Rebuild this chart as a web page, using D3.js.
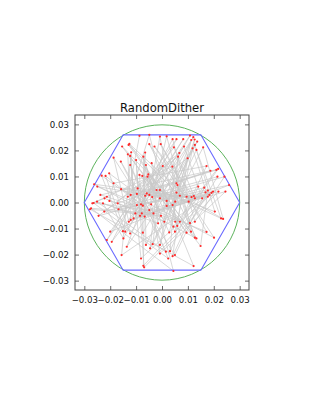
<!DOCTYPE html>
<html>
<head>
<meta charset="utf-8">
<script src="https://cdn.jsdelivr.net/npm/d3@7"></script>
<style>
  body { margin: 0; background: #fff; }
  text { font-family: "DejaVu Sans", sans-serif; }
</style>
</head>
<body>
<div id="chart"></div>
<script>
var width = 318,
    height = 411;

const title = "RandomDither";
const radius = 0.03;
const ticks = [-0.03, -0.02, -0.01, 0.00, 0.01, 0.02, 0.03];

// dither sample points, in drawing order
const xs = [
  -0.0087, -0.0132, 0.0210, 0.0044, -0.0049, -0.0121, 0.0217, 0.0059,
  -0.0008, -0.0049, 0.0214, 0.0108, 0.0018, -0.0038, 0.0241, 0.0127,
  0.0041, -0.0097, 0.0259, -0.0200, 0.0056, -0.0081, -0.0233, -0.0151,
  0.0082, -0.0074, -0.0218, -0.0142, 0.0108, -0.0042, -0.0204, -0.0123,
  0.0121, -0.0008, -0.0087, -0.0074, 0.0136, 0.0018, -0.0076, 0.0028,
  0.0113, 0.0018, -0.0056, 0.0050, 0.0126, 0.0041, -0.0053, 0.0095,
  -0.0154, 0.0051, 0.0056, 0.0112, -0.0129, 0.0069, 0.0060, 0.0127,
  -0.0126, 0.0095, -0.0262, 0.0133, -0.0049, 0.0103, -0.0250, 0.0172,
  -0.0005, 0.0114, -0.0158, 0.0201, -0.0029, 0.0123, -0.0094, -0.0213,
  0.0046, 0.0127, -0.0097, -0.0194, 0.0085, 0.0155, -0.0059, -0.0136,
  0.0118, 0.0177, -0.0065, -0.0062, 0.0127, 0.0204, -0.0021, -0.0046,
  0.0133, 0.0228, -0.0008, -0.0036, 0.0159, 0.0236, 0.0056, -0.0008,
  0.0067, -0.0223, 0.0140, 0.0031, 0.0062, -0.0245, 0.0163, 0.0041,
  0.0099, -0.0168, 0.0168, 0.0050, -0.0187, -0.0128, 0.0177, 0.0149,
  -0.0132, -0.0121, 0.0183, -0.0156, -0.0119, -0.0110, 0.0191, -0.0081,
  -0.0123, -0.0103, 0.0197, -0.0072, -0.0065, -0.0078, 0.0218, -0.0069,
  -0.0100, -0.0085, 0.0245, -0.0008, -0.0072, -0.0067, -0.0251, 0.0015,
  -0.0159, -0.0049, -0.0264, 0.0024, -0.0123, -0.0033, -0.0274, 0.0044,
  -0.0062, -0.0004, -0.0278, 0.0122, -0.0040, -0.0015, -0.0228, -0.0149,
  0.0003, 0.0009, -0.0222, -0.0269, 0.0040, 0.0051, -0.0203, -0.0187,
  0.0172, 0.0069, -0.0213, -0.0238, 0.0187, -0.0171
];
const ys = [
  0.0256, 0.0022, 0.0125, -0.0093, 0.0260, 0.0029, 0.0129, -0.0090,
  0.0253, 0.0029, 0.0099, -0.0079, 0.0254, 0.0021, 0.0099, -0.0074,
  0.0243, -0.0010, 0.0067, -0.0112, 0.0243, -0.0007, 0.0103, -0.0110,
  0.0243, -0.0012, 0.0102, -0.0112, 0.0257, -0.0007, 0.0112, -0.0119,
  0.0251, 0.0016, 0.0106, -0.0116, 0.0234, 0.0006, 0.0102, -0.0115,
  0.0240, -0.0013, 0.0099, -0.0112, 0.0242, -0.0010, 0.0108, -0.0116,
  0.0215, 0.0003, 0.0074, -0.0112, 0.0221, 0.0026, 0.0067, -0.0135,
  0.0225, 0.0022, 0.0070, -0.0138, 0.0224, 0.0003, 0.0061, -0.0113,
  0.0224, 0.0021, 0.0051, -0.0135, 0.0215, 0.0025, 0.0054, -0.0144,
  0.0212, 0.0016, 0.0033, -0.0151, 0.0215, 0.0016, 0.0035, -0.0170,
  0.0208, 0.0022, 0.0026, -0.0163, 0.0221, -0.0035, 0.0048, -0.0176,
  0.0202, -0.0061, 0.0048, -0.0160, 0.0212, -0.0063, 0.0038, -0.0163,
  0.0190, -0.0035, 0.0061, -0.0187, 0.0176, -0.0051, 0.0057, -0.0206,
  0.0170, -0.0026, 0.0039, -0.0202, 0.0172, -0.0074, 0.0046, -0.0167,
  0.0185, -0.0067, 0.0029, -0.0202, 0.0193, -0.0061, 0.0037, -0.0215,
  0.0179, -0.0042, 0.0042, -0.0243, 0.0192, -0.0042, 0.0042, -0.0249,
  0.0163, -0.0051, 0.0042, -0.0196, 0.0176, -0.0054, 0.0003, -0.0189,
  0.0157, -0.0029, -0.0002, -0.0215, 0.0144, -0.0042, -0.0022, -0.0263,
  0.0144, -0.0051, -0.0026, -0.0244, 0.0151, -0.0080, -0.0003, -0.0138,
  0.0140, -0.0074, 0.0016, -0.0003, 0.0138, -0.0074, 0.0006, 0.0074,
  0.0140, -0.0074, 0.0022, 0.0029, 0.0122, -0.0003
];

const points = xs.map((x, i) => ({x: x, y: ys[i]}));

// plot box
var boxLeft = 75, boxRight = 249, boxTop = 115, boxBottom = 290;

var xScale = d3.scaleLinear().domain([-0.0336, 0.0336]).range([boxLeft, boxRight]),
    yScale = d3.scaleLinear().domain([-0.0336, 0.0336]).range([boxBottom, boxTop]);

var svg = d3.select("#chart")
    .append("svg")
    .attr("width", width)
    .attr("height", height);

var fmt = d => d3.format(".2f")(d).replace("-", "\u2212");

// path through the points in order
var line = d3.line()
    .x(d => xScale(d.x))
    .y(d => yScale(d.y));

svg.append("path")
    .attr("d", line(points))
    .attr("fill", "none")
    .attr("stroke", "#c8c8c8")
    .attr("stroke-opacity", 0.9)
    .attr("stroke-width", 0.8);

// bounding circle
svg.append("circle")
    .attr("cx", xScale(0))
    .attr("cy", yScale(0))
    .attr("r", xScale(radius) - xScale(0))
    .attr("fill", "none")
    .attr("stroke", "#5cb35c")
    .attr("stroke-width", 1);

// hexagon
var hex = d3.range(7).map(k => ({
    x: radius * Math.cos(k * Math.PI / 3),
    y: radius * Math.sin(k * Math.PI / 3)
}));

svg.append("path")
    .attr("d", line(hex))
    .attr("fill", "none")
    .attr("stroke", "#6a6aff")
    .attr("stroke-width", 1.1);

svg.selectAll(".pt")
    .data(points)
    .enter().append("circle")
    .attr("class", "pt")
    .attr("cx", d => xScale(d.x))
    .attr("cy", d => yScale(d.y))
    .attr("r", 1.1)
    .attr("fill", "#ff2a2a");

// axes, ticks pointing inward on all sides
var bottomAxis = d3.axisBottom(xScale).tickValues(ticks).tickSizeInner(-4).tickSizeOuter(0).tickPadding(7).tickFormat(fmt);
var leftAxis = d3.axisLeft(yScale).tickValues(ticks).tickSizeInner(-4).tickSizeOuter(0).tickPadding(6).tickFormat(fmt);
var topAxis = d3.axisTop(xScale).tickValues(ticks).tickSizeInner(-4).tickSizeOuter(0).tickFormat("");
var rightAxis = d3.axisRight(yScale).tickValues(ticks).tickSizeInner(-4).tickSizeOuter(0).tickFormat("");

[[bottomAxis, "translate(0," + boxBottom + ")"],
 [leftAxis, "translate(" + boxLeft + ",0)"],
 [topAxis, "translate(0," + boxTop + ")"],
 [rightAxis, "translate(" + boxRight + ",0)"]].forEach(([ax, tr]) => {
    var g = svg.append("g").attr("transform", tr).call(ax);
    g.select(".domain").remove();
    g.selectAll("line").attr("stroke", "#444").attr("stroke-width", 0.8);
    g.selectAll("text").attr("font-size", "8.6px").attr("fill", "#111")
        .style("font-family", "DejaVu Sans");
});

svg.append("rect")
    .attr("x", boxLeft)
    .attr("y", boxTop)
    .attr("width", boxRight - boxLeft)
    .attr("height", boxBottom - boxTop)
    .attr("fill", "none")
    .attr("stroke", "#444")
    .attr("stroke-width", 1);

svg.append("text")
    .attr("x", (boxLeft + boxRight) / 2)
    .attr("y", boxTop - 3)
    .attr("text-anchor", "middle")
    .attr("font-size", "11.6px")
    .attr("fill", "#111")
    .text(title);
</script>
</body>
</html>
